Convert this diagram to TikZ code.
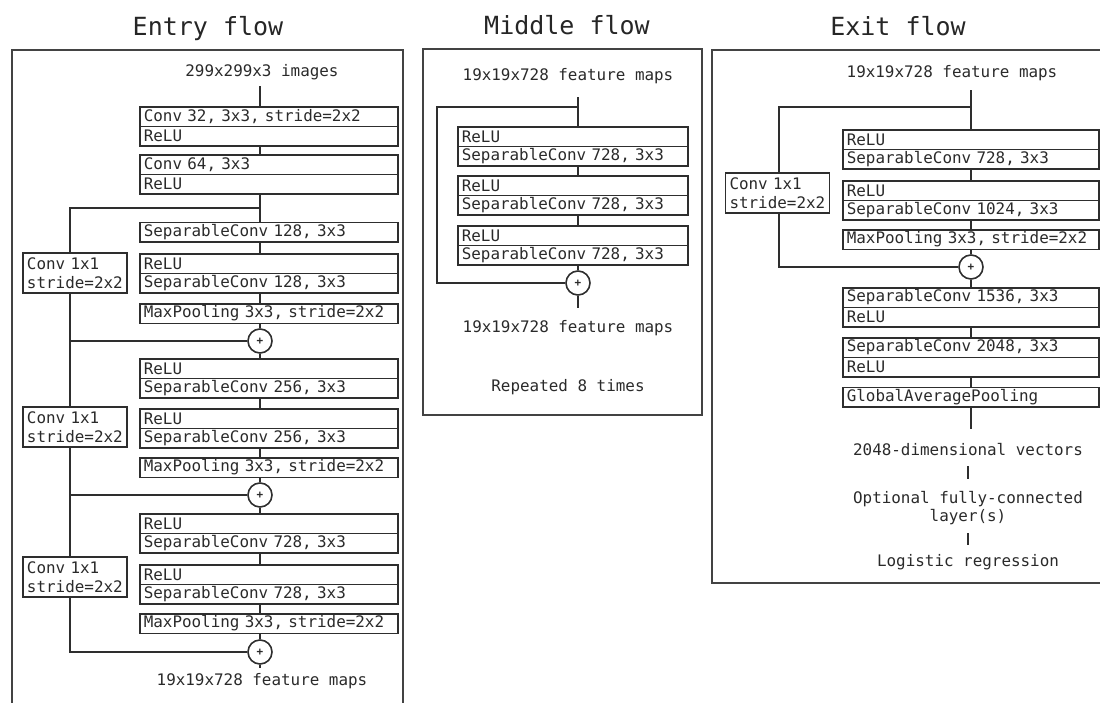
\documentclass[tikz,border=0pt]{standalone}
\usepackage{fontspec}
\newfontfamily\monof{DejaVu Sans Mono}
\definecolor{lc}{HTML}{2E2E2E}
\definecolor{tc}{HTML}{2A2A2A}
\newcommand{\boxfont}{\monof\fontsize{15.9}{18.5}\selectfont}
\newcommand{\titlefont}{\monof\fontsize{25}{30}\selectfont}
\tikzset{
  row/.style={draw=lc, line width=1.6pt, minimum height=19.5pt, text width=#1, inner xsep=4pt, inner ysep=0pt, align=left, anchor=north west, font=\boxfont, text=tc},
  convbox/.style={draw=lc, line width=1.6pt, minimum height=40pt, text width=96pt, inner xsep=4pt, inner ysep=0pt, align=left, font=\boxfont, text=tc},
  plus/.style={draw=lc, line width=1.6pt, circle, minimum size=24pt, inner sep=0pt, font=\monof\bfseries\fontsize{11}{11}\selectfont, text=tc},
  lbl/.style={font=\boxfont, text=tc, align=center, inner sep=0pt},
  ttl/.style={font=\titlefont, text=black!85, inner sep=0pt, anchor=base},
  ln/.style={draw=lc, line width=1.6pt},
  frm/.style={draw=lc!90, line width=1.8pt}
}
\begin{document}
\begin{tikzpicture}[x=1pt,y=-1pt]
\useasboundingbox (0,0) rectangle (1100,702);
\clip (0,0) rectangle (1100,702);
% ---------- titles and frames ----------
\node[ttl] (t1) at (208,35) {Entry flow};
\node[ttl] (t2) at (567,34) {Middle flow};
\node[ttl] (t3) at (898,35) {Exit flow};
\draw[frm] (12,50) rectangle (403,730);
\draw[frm] (423,49) rectangle (702,415);
\draw[frm] (712,50) rectangle (1130,583);
% ---------- Entry flow ----------
\node[lbl] (ein) at (262,72) {299x299x3 images};
\coordinate (ex) at (260,86);
\node[row=250pt] (E1a) at (139,106) {Conv 32, 3x3, stride=2x2};
\node[row=250pt] (E1b) at (139,125.5) {ReLU};
\node[row=250pt] (E2a) at (139,154) {Conv 64, 3x3};
\node[row=250pt] (E2b) at (139,173.5) {ReLU};
\node[row=250pt] (E3) at (139,221.5) {SeparableConv 128, 3x3};
\node[row=250pt] (E4a) at (139,253) {ReLU};
\node[row=250pt] (E4b) at (139,272.5) {SeparableConv 128, 3x3};
\node[row=250pt] (E5) at (139,303) {MaxPooling 3x3, stride=2x2};
\node[plus] (P1) at (260,341) {+};
\node[row=250pt] (E6a) at (139,358) {ReLU};
\node[row=250pt] (E6b) at (139,377.5) {SeparableConv 256, 3x3};
\node[row=250pt] (E7a) at (139,408) {ReLU};
\node[row=250pt] (E7b) at (139,427.5) {SeparableConv 256, 3x3};
\node[row=250pt] (E8) at (139,457) {MaxPooling 3x3, stride=2x2};
\node[plus] (P2) at (260,495) {+};
\node[row=250pt] (E9a) at (139,513) {ReLU};
\node[row=250pt] (E9b) at (139,532.5) {SeparableConv 728, 3x3};
\node[row=250pt] (E10a) at (139,564) {ReLU};
\node[row=250pt] (E10b) at (139,583.5) {SeparableConv 728, 3x3};
\node[row=250pt] (E11) at (139,613) {MaxPooling 3x3, stride=2x2};
\node[plus] (P3) at (260,652) {+};
\coordinate (eout) at (260,668);
\node[lbl] (eoutl) at (262,681) {19x19x728 feature maps};
\node[convbox] (C1) at (75,273) {Conv 1x1\\stride=2x2};
\node[convbox] (C2) at (75,427) {Conv 1x1\\stride=2x2};
\node[convbox] (C3) at (75,577) {Conv 1x1\\stride=2x2};
\coordinate (s1) at (70,208);
% main line
\draw[ln] (ex) -- (ex |- E1a.north);
\draw[ln] (ex |- E1b.south) -- (ex |- E2a.north);
\draw[ln] (ex |- E2b.south) -- (ex |- E3.north);
\draw[ln] (ex |- E3.south) -- (ex |- E4a.north);
\draw[ln] (ex |- E4b.south) -- (ex |- E5.north);
\draw[ln] (ex |- E5.south) -- (P1.north);
\draw[ln] (P1.south) -- (ex |- E6a.north);
\draw[ln] (ex |- E6b.south) -- (ex |- E7a.north);
\draw[ln] (ex |- E7b.south) -- (ex |- E8.north);
\draw[ln] (ex |- E8.south) -- (P2.north);
\draw[ln] (P2.south) -- (ex |- E9a.north);
\draw[ln] (ex |- E9b.south) -- (ex |- E10a.north);
\draw[ln] (ex |- E10b.south) -- (ex |- E11.north);
\draw[ln] (ex |- E11.south) -- (P3.north);
\draw[ln] (P3.south) -- (eout);
% skip connections
\draw[ln] (ex |- s1) -- (s1) -- (s1 |- C1.north);
\draw[ln] (s1 |- C1.south) -- (s1 |- P1) -- (P1.west);
\draw[ln] (s1 |- P1) -- (s1 |- C2.north);
\draw[ln] (s1 |- C2.south) -- (s1 |- P2) -- (P2.west);
\draw[ln] (s1 |- P2) -- (s1 |- C3.north);
\draw[ln] (s1 |- C3.south) -- (s1 |- P3) -- (P3.west);
% ---------- Middle flow ----------
\node[lbl] (min) at (568,76) {19x19x728 feature maps};
\coordinate (mx) at (578,97);
\coordinate (ms) at (437,107);
\node[row=222pt] (M1a) at (457,126) {ReLU};
\node[row=222pt] (M1b) at (457,145.5) {SeparableConv 728, 3x3};
\node[row=222pt] (M2a) at (457,175) {ReLU};
\node[row=222pt] (M2b) at (457,194.5) {SeparableConv 728, 3x3};
\node[row=222pt] (M3a) at (457,225) {ReLU};
\node[row=222pt] (M3b) at (457,244.5) {SeparableConv 728, 3x3};
\node[plus] (MP) at (578,283) {+};
\coordinate (mout) at (578,308);
\node[lbl] (moutl) at (568,328) {19x19x728 feature maps};
\node[lbl] (rep) at (568,387) {Repeated 8 times};
\draw[ln] (mx) -- (mx |- M1a.north);
\draw[ln] (mx |- M1b.south) -- (mx |- M2a.north);
\draw[ln] (mx |- M2b.south) -- (mx |- M3a.north);
\draw[ln] (mx |- M3b.south) -- (MP.north);
\draw[ln] (MP.south) -- (mout);
\draw[ln] (mx |- ms) -- (ms) -- (ms |- MP) -- (MP.west);
% ---------- Exit flow ----------
\node[lbl] (xin) at (952,73) {19x19x728 feature maps};
\coordinate (xx) at (971,90);
\coordinate (xs) at (779,107);
\node[row=248pt] (X1a) at (842,129) {ReLU};
\node[row=248pt] (X1b) at (842,148.5) {SeparableConv 728, 3x3};
\node[row=248pt] (X2a) at (842,180) {ReLU};
\node[row=248pt] (X2b) at (842,199.5) {SeparableConv 1024, 3x3};
\node[row=248pt] (X3) at (842,229) {MaxPooling 3x3, stride=2x2};
\node[plus] (XP) at (971,267) {+};
\node[row=248pt] (X4a) at (842,287) {SeparableConv 1536, 3x3};
\node[row=248pt] (X4b) at (842,306.5) {ReLU};
\node[row=248pt] (X5a) at (842,337) {SeparableConv 2048, 3x3};
\node[row=248pt] (X5b) at (842,356.5) {ReLU};
\node[row=248pt] (X6) at (842,386.5) {GlobalAveragePooling};
\node[convbox] (XC) at (777.5,193) {Conv 1x1\\stride=2x2};
\node[lbl] (vec) at (968,450) {2048-dimensional vectors};
\node[lbl] (fc) at (968,508) {Optional fully-connected\\layer(s)};
\node[lbl] (lr) at (968,562) {Logistic regression};
\draw[ln] (xx) -- (xx |- X1a.north);
\draw[ln] (xx |- X1b.south) -- (xx |- X2a.north);
\draw[ln] (xx |- X2b.south) -- (xx |- X3.north);
\draw[ln] (xx |- X3.south) -- (XP.north);
\draw[ln] (XP.south) -- (xx |- X4a.north);
\draw[ln] (xx |- X4b.south) -- (xx |- X5a.north);
\draw[ln] (xx |- X5b.south) -- (xx |- X6.north);
\draw[ln] (xx |- X6.south) -- ([yshift=-21pt]xx |- X6.south);
\draw[ln] ([yshift=-10pt]vec.south) -- ([yshift=-23pt]vec.south);
\draw[ln] ([yshift=-8pt]fc.south) -- ([yshift=-20pt]fc.south);
\draw[ln] (xx |- xs) -- (xs) -- (xs |- XC.north);
\draw[ln] (xs |- XC.south) -- (xs |- XP) -- (XP.west);
\end{tikzpicture}
\end{document}
